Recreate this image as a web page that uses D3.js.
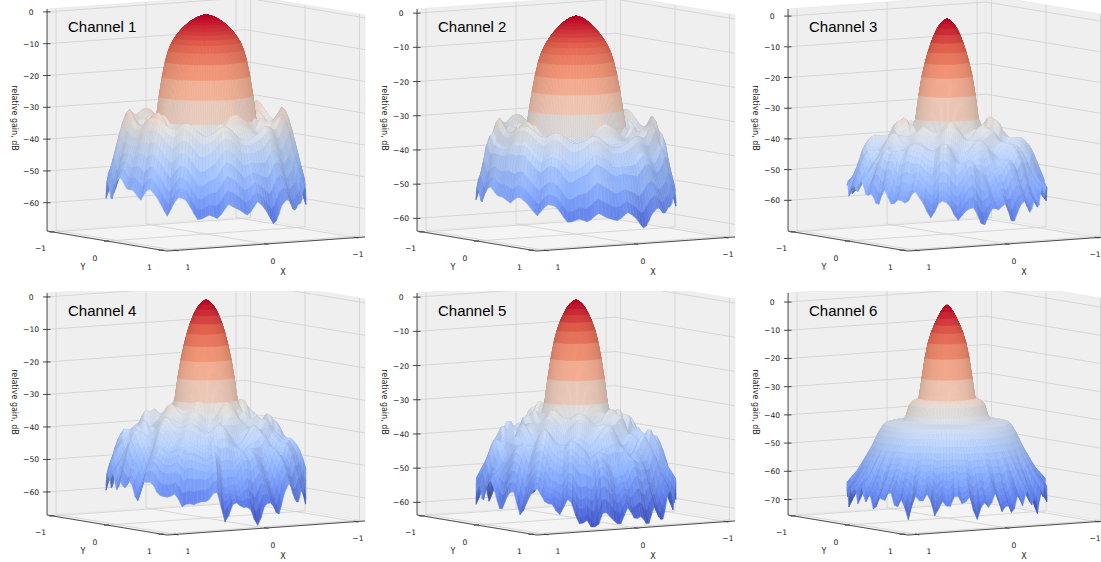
<!DOCTYPE html>
<html>
<head>
<meta charset="utf-8">
<script src="https://cdn.jsdelivr.net/npm/d3@7"></script>
<style>
  body { margin: 0; background: #fff; }
  svg { display: block; }
</style>
</head>
<body>
<svg id="chart" width="1101" height="562"></svg>
<script>
// --- DATA ---

const channelNames = ['Channel 1', 'Channel 2', 'Channel 3', 'Channel 4', 'Channel 5', 'Channel 6'];
const zTicks = [0, -10, -20, -30, -40, -50, -60];
const zTicks6 = [0, -10, -20, -30, -40, -50, -60, -70];
const xyTicks = [-1, 0, 1];
const zLimits = [[-68.9, 0.9], [-63.7, 1.2], [-70, 2.3], [-67.1, 1.2], [-63.7, 1.2], [-75.5, 3.2]];

// main lobe gain (dB), radius step 0.05 from the centre
const radiusStep = 0.05;
const lobe1 = [0, -0.3, -1.1, -2.0, -3.4, -5.0, -7.2, -10.0, -16.0, -26.0, -40.0];
const lobe2 = [0, -0.4, -1.3, -2.6, -4.2, -6.2, -8.6, -12.0, -19.0, -28.0, -40.0];
const lobe3 = [0, -0.8, -3.3, -7.5, -13.0, -20.0, -33.0, -48.0];
const lobe4 = [0, -0.8, -3.2, -7.0, -12.5, -20.0, -31.0, -46.0];
const lobe5 = [0, -0.6, -2.8, -6.2, -10.5, -19.0, -30.0, -45.0];
const lobe6 = [0, -1.5, -5.5, -9.5, -16.0, -29.0, -45.0];

// side lobe envelope (dB) over radius 0 .. 0.95
const side1 = [-46, -46, -46, -45, -44, -42, -40, -35, -31, -29, -30, -28, -30, -31, -30, -28, -32, -37, -42, -47];
const side2 = [-46, -46, -46, -45, -44, -42, -40, -36, -32, -29, -31, -28, -31, -30, -32, -28, -33, -34, -41, -46];
const side3 = [-50, -50, -50, -48, -44, -37, -31, -32, -31, -33, -33, -35, -35, -36, -37, -38, -39, -42, -45, -48];
const side4 = [-50, -50, -50, -48, -42, -35, -29, -31, -30, -32, -32, -35, -34, -36, -36, -38, -39, -42, -45, -49];
const side5 = [-50, -50, -50, -47, -41, -33, -27, -30, -29, -32, -31, -34, -33, -36, -35, -38, -39, -42, -45, -49];
const side6 = [-33, -33, -33, -33, -33, -33, -33.5, -34.5, -40.5, -41, -41.2, -41.5, -42, -45, -49, -52, -55, -58, -60, -62];

// side lobe bumps over the plane (dB), rows Y = -1..1, columns X = -1..1
const bump1 = [
  [-4, -6, -2, -8, -3, -7, -1, -5, -4],
  [-6, 0, -5, -1, -7, -2, -6, 0, -5],
  [-2, -7, -1, -6, 0, -5, -2, -8, -3],
  [-5, 0, -8, -2, -4, -1, -7, 0, -6],
  [-1, -6, -2, -5, 0, -6, -1, -5, -2],
  [-7, -1, -6, 0, -7, -2, -8, -1, -6],
  [-3, -8, -2, -7, -1, -9, -3, -7, -4],
  [-9, -4, -11, -5, -9, -4, -12, -6, -10],
  [-10, -12, -8, -13, -9, -12, -8, -13, -11]];
const bump2 = [
  [-3, -5, -1, -6, -2, -5, -1, -4, -3],
  [-5, 0, -4, -1, -5, -1, -5, 0, -4],
  [-1, -5, -1, -4, 0, -4, -2, -6, -2],
  [-4, 0, -6, -1, -3, -1, -5, 0, -5],
  [-1, -5, -2, -4, 0, -5, -1, -4, -2],
  [-6, -1, -5, 0, -5, -2, -6, -1, -5],
  [-3, -7, -2, -6, -1, -7, -3, -6, -4],
  [-8, -4, -9, -5, -8, -4, -10, -5, -9],
  [-10, -11, -8, -12, -9, -11, -8, -12, -10]];
const bump3 = [
  [-5, -2, -7, -1, -6, -3, -8, -2, -6, -1, -5],
  [-1, -6, 0, -5, -2, -7, 0, -6, -1, -7, -2],
  [-6, -1, -8, -2, -5, 0, -6, -2, -8, -1, -6],
  [-2, -7, -1, -6, 0, -7, -2, -5, 0, -6, -1],
  [-7, 0, -5, -2, -8, -1, -6, 0, -7, -2, -5],
  [-1, -6, -2, -7, 0, -4, 0, -7, -1, -6, -2],
  [-6, -2, -8, 0, -6, -1, -8, -2, -5, 0, -7],
  [-2, -8, -1, -6, -2, -7, 0, -6, -1, -8, -2],
  [-8, -3, -9, -2, -8, -3, -9, -1, -8, -3, -9],
  [-5, -11, -4, -10, -5, -12, -4, -10, -6, -11, -5],
  [-12, -8, -13, -9, -12, -8, -14, -9, -12, -8, -13]];
const bump4 = [
  [-2, -6, -1, -7, -3, -5, -1, -8, -2, -6, -3],
  [-7, -1, -6, -2, -8, 0, -6, -1, -7, -2, -6],
  [-1, -7, 0, -6, -1, -7, -2, -5, 0, -8, -1],
  [-6, -2, -8, -1, -5, -2, -7, 0, -6, -1, -7],
  [-1, -6, -1, -7, 0, -6, -1, -8, -2, -5, 0],
  [-8, 0, -5, -1, -6, -4, -6, -1, -7, 0, -6],
  [-2, -7, -1, -8, -2, -6, -1, -5, 0, -7, -2],
  [-7, -1, -6, -2, -7, 0, -8, -2, -6, -1, -8],
  [-3, -9, -2, -8, -3, -9, -2, -8, -3, -9, -4],
  [-11, -5, -12, -4, -10, -6, -13, -4, -11, -5, -12],
  [-9, -13, -8, -12, -9, -14, -8, -12, -9, -13, -10]];
const bump5 = [
  [-4, -1, -6, -2, -7, -1, -5, -3, -8, -1, -6],
  [-1, -7, -2, -5, 0, -6, -2, -7, -1, -5, -2],
  [-7, 0, -6, -1, -7, -2, -8, 0, -6, -2, -7],
  [-2, -6, -1, -8, -2, -5, 0, -6, -1, -7, -1],
  [-6, -1, -7, 0, -6, -1, -7, -2, -8, 0, -6],
  [-1, -8, -2, -6, -1, -4, -1, -6, -2, -7, -1],
  [-7, -1, -6, -2, -8, 0, -6, -1, -7, -1, -8],
  [-1, -7, -2, -8, -1, -6, -2, -8, 0, -6, -2],
  [-9, -2, -8, -3, -9, -2, -8, -3, -9, -2, -8],
  [-4, -11, -5, -12, -4, -10, -5, -12, -4, -11, -6],
  [-13, -9, -12, -8, -13, -9, -12, -8, -14, -9, -12]];
const bump6 = [[0, 0, 0, 0, 0], [0, 0, 0, 0, 0], [0, 0, 0, 0, 0], [0, 0, 0, 0, 0], [-2, -1, -1, -1, -2]];

// weight of the fine rim fringe, over radius 0 .. 0.95
const fringeWeight1 = [0, 0, 0, 0, 0, 0, 0, 0, 0, 0, 0, 0, 0, 0, 0, 0.1, 0.2, 0.4, 0.6, 0.7];
const fringeWeight2 = [0, 0, 0, 0, 0, 0, 0, 0, 0, 0, 0, 0, 0, 0, 0, 0.1, 0.2, 0.3, 0.5, 0.6];
const fringeWeight3 = [0, 0, 0, 0, 0, 0, 0, 0, 0, 0, 0, 0, 0, 0.1, 0.2, 0.3, 0.4, 0.6, 0.8, 0.9];
const fringeWeight4 = [0, 0, 0, 0, 0, 0, 0, 0, 0, 0, 0, 0, 0, 0.1, 0.2, 0.3, 0.4, 0.6, 0.8, 0.9];
const fringeWeight5 = [0, 0, 0, 0, 0, 0, 0, 0, 0, 0, 0, 0, 0, 0.1, 0.2, 0.3, 0.4, 0.6, 0.8, 0.9];
const fringeWeight6 = [0, 0, 0, 0, 0, 0, 0, 0, 0, 0, 0, 0, 0, 0, 0, 0.2, 0.4, 0.8, 1.2, 1.5];

// fine fringe around the rim (dB)
const spokes1 = [0, -3, -1, -6, 0, -2, -9, -1, 0, -4, -2, -7, 0, -1, -5, 0, -3, -8, -1, 0, -4, -2, -6, 0, -1, -10, -2, 0, -3, -5,
  0, -2, -7, -1, 0, -4, -1, -8, 0, -2, -5, 0, -3, -9, -1, 0, -4, -2, -6, 0, -1, -7, -2, 0, -3, -5, 0, -2, -8, -1];
const spokes2 = [0, -2, -1, -4, 0, -1, -6, -1, 0, -3, -1, -5, 0, -1, -3, 0, -2, -6, -1, 0, -3, -1, -4, 0, -1, -7, -1, 0, -2, -4,
  0, -1, -5, -1, 0, -3, -1, -6, 0, -1, -4, 0, -2, -7, -1, 0, -3, -1, -4, 0, -1, -5, -1, 0, -2, -4, 0, -1, -6, -1];
const spokes3 = [0, -4, -1, -7, 0, -3, -1, -6, 0, -2, -8, -1, 0, -5, -2, 0, -6, -1, -3, 0, -7, -2, 0, -4, -1, -9, 0, -3, -1, -5,
  0, -6, -2, 0, -4, -1, -7, 0, -3, -1, -5, 0, -8, -2, 0, -4, -1, -6, 0, -3, -1, -7, 0, -2, -5, 0, -4, -1, -6, 0,
  -3, -1, -8, 0, -2, -5, -1, 0, -6, -2, 0, -4];
const spokes4 = [0, -3, -1, -8, 0, -2, -5, -1, 0, -6, -2, 0, -4, -1, -9, 0, -3, -1, -6, 0, -2, -7, -1, 0, -4, -2, 0, -5, -1, -8,
  0, -3, -1, -6, 0, -2, -4, 0, -7, -1, 0, -5, -2, 0, -3, -9, -1, 0, -4, -2, -6, 0, -1, -5, 0, -3, -7, -1, 0, -4,
  -2, 0, -6, -1, -3, 0, -8, -2, 0, -4, -1, -5];
const spokes5 = [0, -2, -5, -1, 0, -7, -2, 0, -3, -1, -6, 0, -4, -1, -8, 0, -2, -5, 0, -3, -1, -7, 0, -2, -4, -1, 0, -6, -2, 0,
  -5, -1, -8, 0, -3, -1, -6, 0, -2, -4, 0, -7, -1, 0, -3, -5, -1, 0, -6, -2, 0, -4, -1, -9, 0, -3, -1, -5, 0, -2,
  -7, -1, 0, -4, -2, 0, -6, -1, -3, 0, -5, -1];
const spokes6 = [0, -4, -1, -6, -2, -3, 0, -5, -2, -7, -1, -3, 0, -6, -2, -4, 0, -3, -1, -7, -2, -4, 0, -5, -3, -6, -1, -4, 0, -5,
  -2, -7, -1, -3, 0, -4, -2, -6, -1, -4, 0, -5, -3, -7, -1, -4, 0, -3, -2, -6, -1, -3, 0, -5, -2, -7, -1, -4, 0, -5,
  -3, -6, -1, -4, 0, -5, -2, -7, -1, -3, 0, -4, -2, -6, -1, -4, 0, -5, -3, -7, -1, -4, 0, -3, -2, -6, -1, -3, 0, -5];

// --- LAYOUT ---
const panelOrigins = [[0, 0], [370, 0], [741, 0], [0, 284], [370, 284], [741, 284]];
const LIM = 1.1;            // axis limits are +-LIM
const DISK = 0.95;          // radius of the plotted (u, v) disk
const BASE = [206, 234];    // floor centre inside a panel
const UX = [-90, 6.4];      // screen step for one unit of X
const UY = [54.5, 9.1];     // screen step for one unit of Y
const BOX_H = 222;          // pane height in px
const NR = 32, NA = 160;    // polar mesh

const coolwarm = d3.scaleLinear()
  .domain(d3.range(9).map(i => i / 8))
  .range(['#3b4cc0', '#6282ea', '#8db0fe', '#b8d0f9', '#dddddd', '#f5c4ad', '#f49a7b', '#de604d', '#b40426'])
  .interpolate(d3.interpolateRgb)
  .clamp(true);

const channels = [
  { lobe: lobe1, side: side1, bump: bump1, fringeW: fringeWeight1, spokes: spokes1, ticks: zTicks },
  { lobe: lobe2, side: side2, bump: bump2, fringeW: fringeWeight2, spokes: spokes2, ticks: zTicks },
  { lobe: lobe3, side: side3, bump: bump3, fringeW: fringeWeight3, spokes: spokes3, ticks: zTicks },
  { lobe: lobe4, side: side4, bump: bump4, fringeW: fringeWeight4, spokes: spokes4, ticks: zTicks },
  { lobe: lobe5, side: side5, bump: bump5, fringeW: fringeWeight5, spokes: spokes5, ticks: zTicks },
  { lobe: lobe6, side: side6, bump: bump6, fringeW: fringeWeight6, spokes: spokes6, ticks: zTicks6 }
].map((c, i) => ({ ...c, name: channelNames[i], zlim: zLimits[i] }));

const svg = d3.select('#chart');
const defs = svg.append('defs');
const closed = d3.line().curve(d3.curveLinearClosed);

// radius -> value, straight segments between the samples
function radialScale(values) {
  return d3.scaleLinear().domain(values.map((v, i) => i * radiusStep)).range(values).clamp(true);
}

// angle fraction (0..1) -> value, straight segments, wrapping round
function ringScale(values) {
  const n = values.length;
  return d3.scaleLinear().domain(d3.range(n + 1).map(i => i / n)).range([...values, values[0]]);
}

// (X, Y) -> value from a grid over [-1, 1]^2, eased between the samples
function gridScale(grid) {
  const n = grid.length - 1, m = grid[0].length - 1;
  const ease = d3.easeSinInOut;
  return (X, Y) => {
    const gx = (X + 1) / 2 * m, gy = (Y + 1) / 2 * n;
    const i = Math.min(n - 1, Math.max(0, Math.floor(gy)));
    const j = Math.min(m - 1, Math.max(0, Math.floor(gx)));
    const tx = ease(gx - j), ty = ease(gy - i);
    const top = d3.interpolateNumber(grid[i][j], grid[i][j + 1])(tx);
    const bot = d3.interpolateNumber(grid[i + 1][j], grid[i + 1][j + 1])(tx);
    return d3.interpolateNumber(top, bot)(ty);
  };
}

// Gain surface of one channel, built from its arrays
function surfaceOf(ch) {
  const lobeMax = radiusStep * (ch.lobe.length - 1);
  const lobeAt = d3.interpolateBasis(ch.lobe);
  const sideAt = radialScale(ch.side);
  const fringeWAt = radialScale(ch.fringeW);
  const spokeAt = ringScale(ch.spokes);
  const bumpAt = gridScale(ch.bump);
  const floorZ = ch.zlim[0] + 0.4;
  return (X, Y) => {
    const r = Math.hypot(X, Y);
    const lobe = r <= lobeMax ? lobeAt(r / lobeMax) : -200;
    const a = ((Math.atan2(Y, X) / (2 * Math.PI)) % 1 + 1) % 1;
    const sl = sideAt(r) + bumpAt(X, Y) + fringeWAt(r) * spokeAt(a);
    return Math.max(floorZ, lobe, sl);
  };
}

function drawPanel(ch, idx) {
  const [ox, oy] = panelOrigins[idx];
  const zs = d3.scaleLinear().domain(ch.zlim).range([0, -BOX_H]);
  const [zmin, zmax] = ch.zlim;
  const P = (X, Y, z) => [ox + BASE[0] + X * UX[0] + Y * UY[0], oy + BASE[1] + X * UX[1] + Y * UY[1] + zs(z)];

  const clipId = 'clip' + idx;
  defs.append('clipPath').attr('id', clipId).append('rect')
    .attr('x', ox).attr('y', oy + (idx > 2 ? 7 : 0))
    .attr('width', idx % 3 === 2 ? 360 : 366)
    .attr('height', idx > 2 ? 271 : 282);
  const g = svg.append('g').attr('clip-path', `url(#${clipId})`);

  // panes
  const panes = [
    [[LIM, -LIM, zmin], [LIM, LIM, zmin], [-LIM, LIM, zmin], [-LIM, -LIM, zmin]],
    [[LIM, -LIM, zmin], [-LIM, -LIM, zmin], [-LIM, -LIM, zmax], [LIM, -LIM, zmax]],
    [[-LIM, -LIM, zmin], [-LIM, LIM, zmin], [-LIM, LIM, zmax], [-LIM, -LIM, zmax]]
  ];
  g.selectAll('path.pane').data(panes).join('path')
    .attr('class', 'pane')
    .attr('d', d => closed(d.map(p => P(...p))))
    .attr('fill', (d, i) => i === 0 ? '#f4f4f4' : '#efefef')
    .attr('stroke', '#e4e4e4').attr('stroke-width', 0.6);

  // grid lines
  const grid = [];
  xyTicks.forEach(t => {
    grid.push([[t, -LIM, zmin], [t, -LIM, zmax]]);
    grid.push([[-LIM, t, zmin], [-LIM, t, zmax]]);
    grid.push([[t, -LIM, zmin], [t, LIM, zmin]]);
    grid.push([[LIM, t, zmin], [-LIM, t, zmin]]);
  });
  ch.ticks.forEach(t => {
    grid.push([[LIM, -LIM, t], [-LIM, -LIM, t]]);
    grid.push([[-LIM, -LIM, t], [-LIM, LIM, t]]);
  });
  g.selectAll('line.grid').data(grid).join('line')
    .attr('class', 'grid')
    .attr('x1', d => P(...d[0])[0]).attr('y1', d => P(...d[0])[1])
    .attr('x2', d => P(...d[1])[0]).attr('y2', d => P(...d[1])[1])
    .attr('stroke', '#cfcfcf').attr('stroke-width', 0.8);

  // surface mesh on the disk
  const zAt = surfaceOf(ch);
  const verts = d3.range(NR + 1).map(i => d3.range(NA).map(j => {
    const r = DISK * i / NR, a = 2 * Math.PI * j / NA;
    const X = r * Math.cos(a), Y = r * Math.sin(a);
    return { X, Y, z: zAt(X, Y) };
  }));
  const zn = z => (z - zmin) / (zmax - zmin) * 2;
  const light = [0.45, 0.7, 0.85];
  const lightLen = Math.hypot(...light);
  const quads = [];
  for (let i = 0; i < NR; i++) {
    for (let j = 0; j < NA; j++) {
      const v = [verts[i][j], verts[i + 1][j], verts[i + 1][(j + 1) % NA], verts[i][(j + 1) % NA]];
      const zMean = d3.mean(v, p => p.z);
      const d1 = [(v[2].X - v[0].X) / LIM, (v[2].Y - v[0].Y) / LIM, zn(v[2].z) - zn(v[0].z)];
      const d2 = [(v[3].X - v[1].X) / LIM, (v[3].Y - v[1].Y) / LIM, zn(v[3].z) - zn(v[1].z)];
      let n = [d1[1] * d2[2] - d1[2] * d2[1], d1[2] * d2[0] - d1[0] * d2[2], d1[0] * d2[1] - d1[1] * d2[0]];
      if (n[2] < 0) n = n.map(k => -k);
      const nl = Math.hypot(...n) || 1;
      const shade = (n[0] * light[0] + n[1] * light[1] + n[2] * light[2]) / (nl * lightLen);
      const f = Math.max(0.72, Math.min(1.04, 0.8 + 0.25 * shade));
      const c = d3.rgb(coolwarm((zMean - zmin) / (0 - zmin)));
      const col = d3.rgb(c.r * f, c.g * f, c.b * f).formatHex();
      quads.push({
        depth: d3.mean(v, p => p.X * UX[1] + p.Y * UY[1]),
        d: closed(v.map(p => P(p.X, p.Y, p.z))),
        col
      });
    }
  }
  quads.sort((a, b) => a.depth - b.depth);
  g.append('g').selectAll('path').data(quads).join('path')
    .attr('d', q => q.d)
    .attr('fill', q => q.col)
    .attr('stroke', q => q.col)
    .attr('stroke-width', 0.5)
    .attr('stroke-linejoin', 'round');

  // axis lines
  const axes = [
    [[LIM, -LIM, zmin], [LIM, LIM, zmin]],
    [[LIM, LIM, zmin], [-LIM, LIM, zmin]],
    [[LIM, -LIM, zmin], [LIM, -LIM, zmax]]
  ];
  g.selectAll('line.axis').data(axes).join('line')
    .attr('class', 'axis')
    .attr('x1', d => P(...d[0])[0]).attr('y1', d => P(...d[0])[1])
    .attr('x2', d => P(...d[1])[0]).attr('y2', d => P(...d[1])[1])
    .attr('stroke', '#3a3a3a').attr('stroke-width', 0.9);

  const font = "'DejaVu Sans', sans-serif";
  const fmt = t => t < 0 ? '\u2212' + Math.abs(t) : String(t);
  const maxX = ox + (idx % 3 === 2 ? 354 : 362);

  // z ticks
  const zt = g.append('g');
  ch.ticks.forEach(t => {
    const [x, y] = P(LIM, -LIM, t);
    zt.append('line').attr('x1', x - 4).attr('x2', x + 3.5).attr('y1', y).attr('y2', y)
      .attr('stroke', '#333').attr('stroke-width', 0.9);
    zt.append('text').attr('x', x - 16).attr('y', y + 3)
      .attr('text-anchor', 'middle').attr('font-family', font).attr('font-size', 7.6)
      .attr('fill', '#222').text(fmt(t));
  });

  // Y ticks (front-left edge) and X ticks (front-right edge)
  xyTicks.forEach(t => {
    const [yx, yy] = P(LIM, t, zmin);
    zt.append('line').attr('x1', yx - 3).attr('y1', yy + 0.3).attr('x2', yx + 2).attr('y2', yy - 0.2)
      .attr('stroke', '#333').attr('stroke-width', 0.8);
    zt.append('text').attr('x', yx - 12).attr('y', yy + 19.5)
      .attr('text-anchor', 'middle').attr('font-family', font).attr('font-size', 7.6)
      .attr('fill', '#222').text(fmt(t));
    const [xx, xy] = P(t, LIM, zmin);
    zt.append('line').attr('x1', xx - 2).attr('y1', xy - 0.4).attr('x2', xx + 2.5).attr('y2', xy + 0.5)
      .attr('stroke', '#333').attr('stroke-width', 0.8);
    zt.append('text').attr('x', Math.min(maxX, xx + 7 + 5 * t)).attr('y', xy + 19.7)
      .attr('text-anchor', 'middle').attr('font-family', font).attr('font-size', 7.6)
      .attr('fill', '#222').text(fmt(t));
  });

  // axis titles
  g.append('text').attr('x', ox + 83).attr('y', oy + 270)
    .attr('text-anchor', 'middle').attr('font-family', font).attr('font-size', 8)
    .attr('fill', '#222').text('Y');
  g.append('text').attr('x', ox + 283).attr('y', oy + 275)
    .attr('text-anchor', 'middle').attr('font-family', font).attr('font-size', 8)
    .attr('fill', '#222').text('X');
  g.append('text')
    .attr('transform', `translate(${ox + 12},${oy + 118}) rotate(90)`)
    .attr('text-anchor', 'middle').attr('font-family', font).attr('font-size', 8)
    .attr('fill', '#222').text('relative gain, dB');

  // channel title
  g.append('text').attr('x', ox + 68).attr('y', oy + 31.5)
    .attr('font-family', "'Liberation Sans', Arial, sans-serif").attr('font-size', 15)
    .attr('fill', '#000').text(ch.name);
}

channels.forEach(drawPanel);
</script>
</body>
</html>
